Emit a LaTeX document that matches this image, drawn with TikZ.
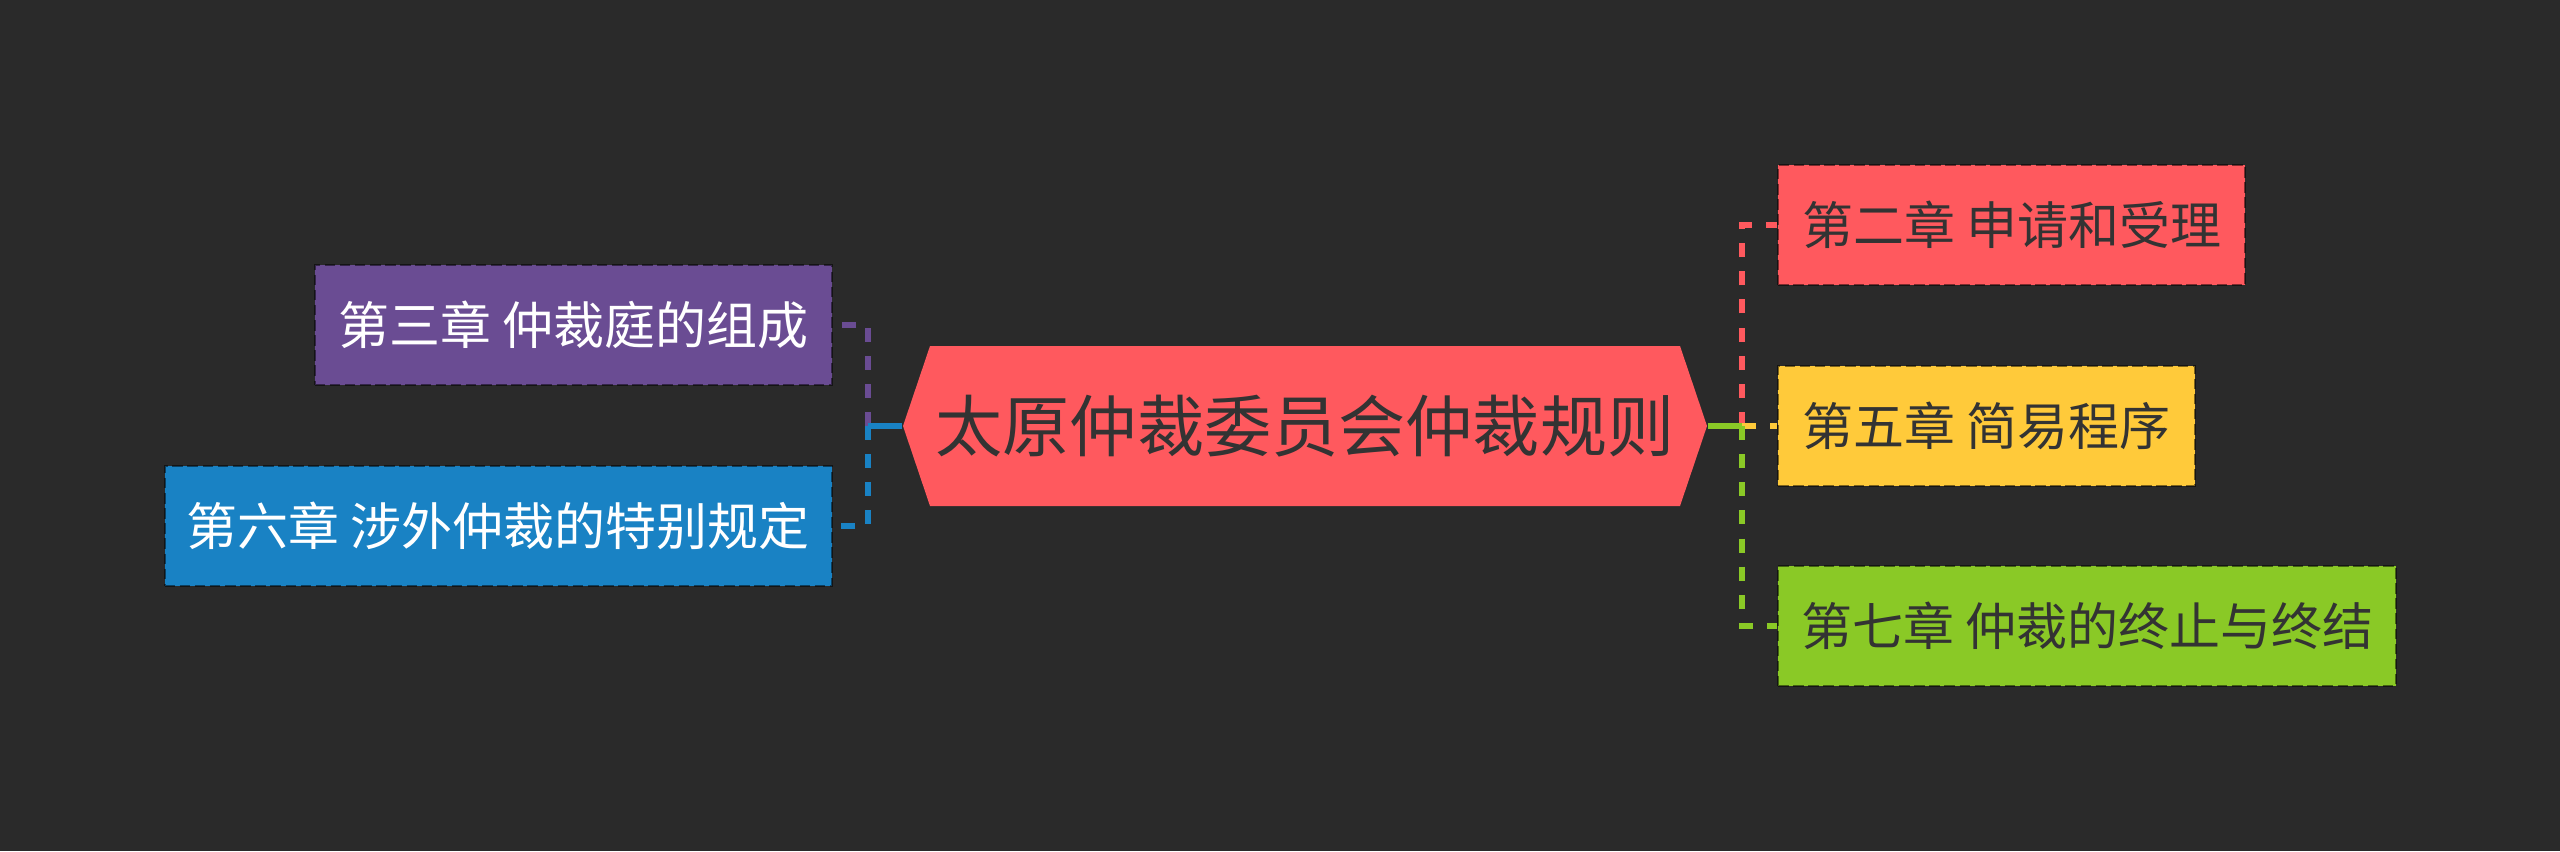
\documentclass[tikz,border=0pt]{standalone}
\usepackage{fontspec}
\setmainfont{Noto Sans CJK SC}
\usepackage{tikz}
\definecolor{bgdark}{HTML}{2A2A2A}
\definecolor{mapred}{HTML}{FF595E}
\definecolor{mapyellow}{HTML}{FFCA3A}
\definecolor{mapgreen}{HTML}{8AC926}
\definecolor{mapblue}{HTML}{1982C4}
\definecolor{mappurple}{HTML}{6A4C93}
\definecolor{inkdark}{HTML}{333333}
\tikzset{
  hub/.style={inner sep=0pt, minimum width=8.04cm, minimum height=1.6cm,
    text=inkdark, font={\fontsize{19.1pt}{22pt}\selectfont}},
  chapter/.style={draw=black, draw opacity=0.5, dash pattern=on 3pt off 1.3pt,
    line width=0.6pt, inner sep=0pt, minimum height=1.2cm, text=inkdark,
    font={\fontsize{14.5pt}{17pt}\selectfont}},
  chapterleft/.style={chapter, text=white},
  trunk/.style={line width=1.5pt},
  twig/.style={line width=1.5pt, dash pattern=on 4pt off 4pt}}

\begin{document}
\begin{tikzpicture}[x=0.01cm, y=-0.01cm]
\fill [bgdark] (0,0) rectangle (2560,851);
\fill [mapred] (903,426) -- ++(27,-80) -- ++(750,0) -- ++(27,80) -- ++(-27,80) -- ++(-750,0) -- cycle;
\node [hub] (hub) at (1305,426) {太原仲裁委员会仲裁规则};
\node [chapter, fill=mapred, minimum width=4.67cm, anchor=west] (ch2) at (1777,225) {第二章 申请和受理};
\node [chapter, fill=mapyellow, minimum width=4.17cm, anchor=west] (ch5) at (1777,426) {第五章 简易程序};
\node [chapter, fill=mapgreen, minimum width=6.18cm, anchor=west] (ch7) at (1777,626) {第七章 仲裁的终止与终结};
\node [chapterleft, fill=mappurple, minimum width=5.17cm, anchor=east] (ch3) at (833,325) {第三章 仲裁庭的组成};
\node [chapterleft, fill=mapblue, minimum width=6.67cm, anchor=east] (ch6) at (833,526) {第六章 涉外仲裁的特别规定};
\coordinate (spinel) at (868,426);
\coordinate (spiner) at (1742,426);
\foreach \ch/\col in {ch3/mappurple, ch6/mapblue} {
  \draw [twig, \col] (spinel) |- (\ch.east);
  \draw [trunk, \col] (hub.west) -- (spinel);
}
\foreach \ch/\col in {ch2/mapred, ch5/mapyellow, ch7/mapgreen} {
  \draw [twig, \col] (spiner) |- (\ch.west);
  \draw [trunk, \col] (hub.east) -- (spiner);
}
\end{tikzpicture}
\end{document}
